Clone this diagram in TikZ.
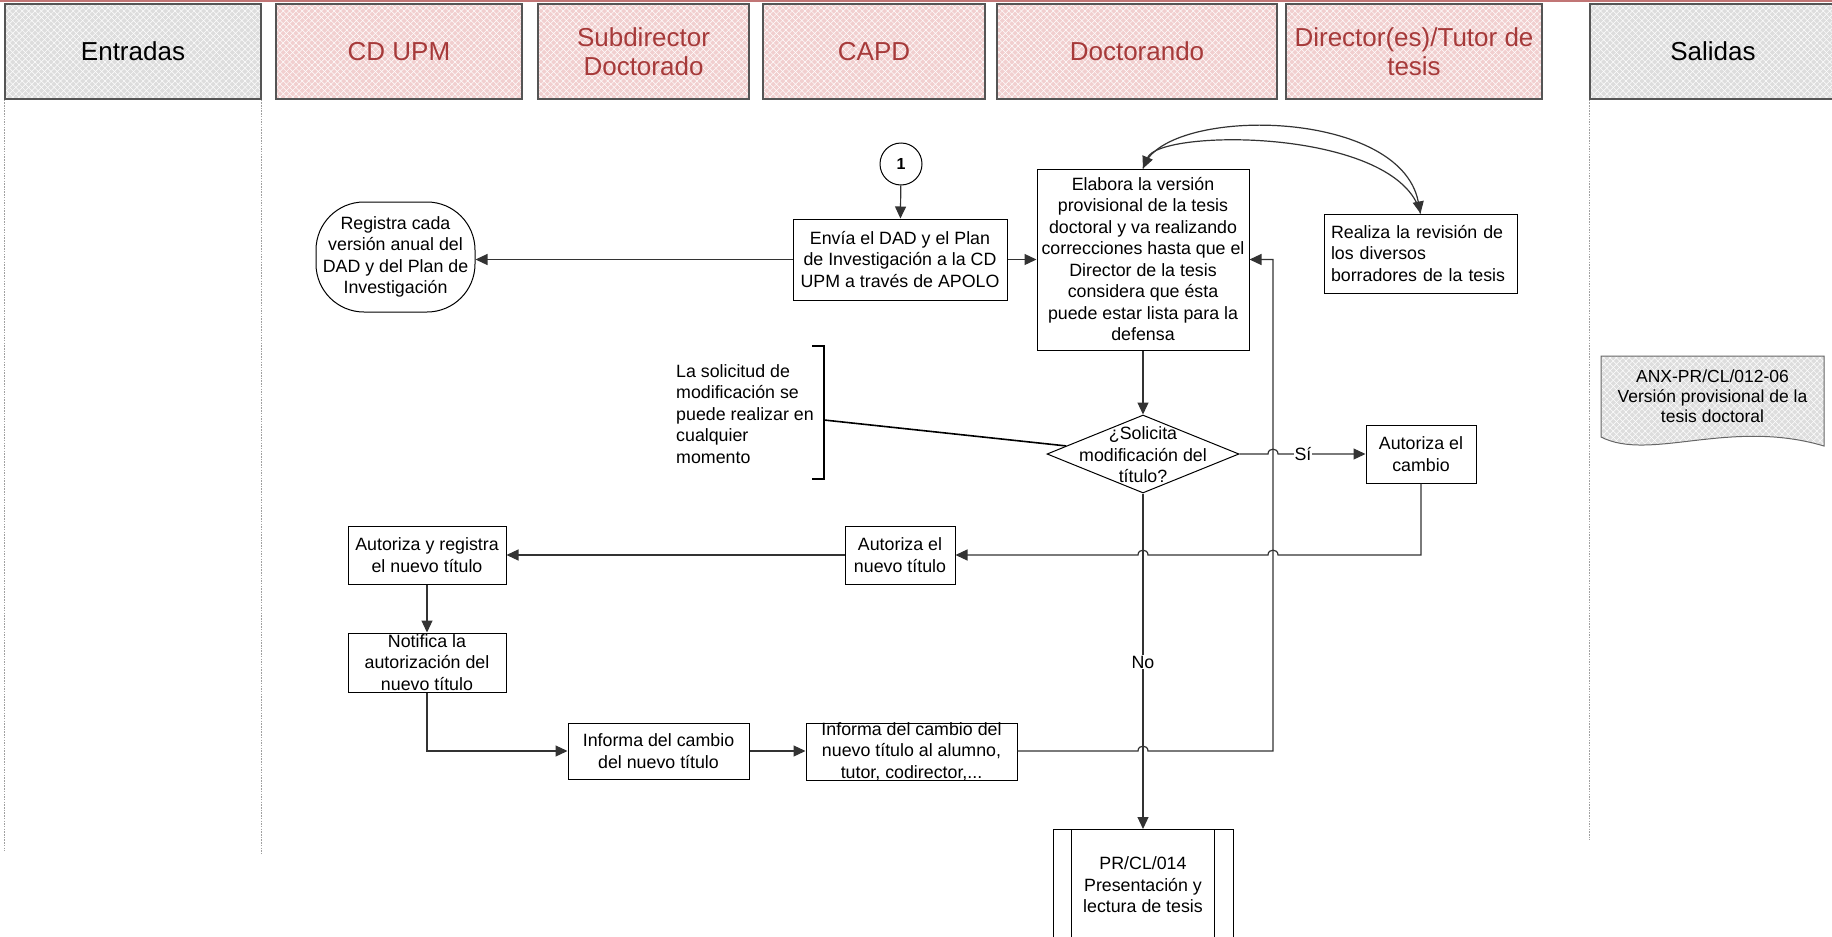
\documentclass[tikz,border=0pt]{standalone}
\usepackage{fontspec}
\setmainfont{Liberation Sans}
\usetikzlibrary{arrows.meta,shapes.geometric,patterns.meta}
\definecolor{pinkbase}{HTML}{F1CFCF}
\definecolor{graybase}{HTML}{DDDDDD}
\definecolor{hdrtext}{HTML}{A63A3A}
\definecolor{linegray}{HTML}{333333}
\definecolor{lanegray}{HTML}{A0A0A0}
\definecolor{hdrborder}{HTML}{555555}
\newcommand\myBody{\fontsize{17.8}{21.5}\selectfont}
\newcommand\myHdr{\fontsize{26}{28.5}\selectfont}
\newcommand\myDoc{\fontsize{17.5}{20}\selectfont}
\begin{document}
\begin{tikzpicture}[x=1pt,y=-1pt,
  box/.style={draw=black, line width=1pt, fill=white, inner sep=0pt},
  txt/.style={font=\myBody, align=center, inner sep=0pt},
  conn/.style={draw=linegray, line width=1.2pt},
  arr/.style={conn, -{Triangle[length=12pt,width=11pt]}},
  hatch/.style={preaction={fill=#1},
    preaction={pattern={Lines[angle=45,distance=4.5pt,line width=0.5pt]}, pattern color=white},
    preaction={pattern={Lines[angle=-45,distance=4.5pt,line width=0.5pt]}, pattern color=white}},
  hdr/.style={hatch=#1, draw=hdrborder, line width=1.2pt, font=\myHdr,
    align=center, inner sep=0pt, minimum height=95pt},
  lane/.style={draw=lanegray, line width=1.3pt, dash pattern=on 1.5pt off 1.2pt},
  lbl/.style={font=\myBody, fill=white, inner sep=1pt}
]
\useasboundingbox (0,0) rectangle (1832,937);
\clip (0,0) rectangle (1832,937);
\fill[white] (0,0) rectangle (1832,937);

% top strip
\draw[draw=hdrtext!70!white, line width=2pt] (0,1) -- (1832,1);

% headers
\node[hdr=graybase, text=black, minimum width=256pt] (hEnt) at (133,51.5) {Entradas};
\node[hdr=pinkbase, text=hdrtext, minimum width=246pt] (hCD) at (399,51.5) {CD UPM};
\node[hdr=pinkbase, text=hdrtext, minimum width=211pt] (hSub) at (643.5,51.5) {Subdirector\\Doctorado};
\node[hdr=pinkbase, text=hdrtext, minimum width=222pt] (hCAPD) at (874,51.5) {CAPD};
\node[hdr=pinkbase, text=hdrtext, minimum width=280pt] (hDoc) at (1137,51.5) {Doctorando};
\node[hdr=pinkbase, text=hdrtext, minimum width=256pt] (hDir) at (1414,51.5) {Director(es)/Tutor de\\tesis};
\node[hdr=graybase, text=black, minimum width=246pt] (hSal) at (1713,51.5) {Salidas};

% lane lines
\draw[lane] (hEnt.south west) -- ++(0,751);
\draw[lane] (hEnt.south east) -- ++(0,754);
\draw[lane] (hSal.south west) -- ++(0,740);

% nodes
\node[box, circle, minimum size=42pt, font=\bfseries\fontsize{16}{16}\selectfont] (c1) at (901,164) {1};
\node[box, txt, minimum width=214pt, minimum height=81pt] (envia) at (900,259.5)
  {Envía el DAD y el Plan\\de Investigación a la CD\\UPM a través de APOLO};
\node[box, txt, rounded corners=48pt, minimum width=159pt, minimum height=110pt] (reg) at (395.5,257)
  {Registra cada\\versión anual del\\DAD y del Plan de\\Investigación};
\node[box, minimum width=212pt, minimum height=181pt] (elab) at (1143,259.5) {};
\node[txt] (elabT) at (1143,259) {Elabora la versión\\provisional de la tesis\\doctoral y va realizando\\correcciones hasta que el\\Director de la tesis\\considera que ésta\\puede estar lista para la\\defensa};
\node[box, txt, align=left, text width=179pt, minimum width=193pt, minimum height=79pt] (rev) at (1420.5,253.5)
  {Realiza la revisión de\\los diversos\\borradores de la tesis};

\node[draw=black, line width=1pt, fill=white, diamond, minimum width=192pt, minimum height=78pt, inner sep=0pt] (dec) at (1143,454) {};
\node[txt] (decT) at (1143,455) {¿Solicita\\modificación del\\título?};

\node[box, txt, minimum width=110pt, minimum height=58pt] (cambio) at (1421,454) {Autoriza el\\cambio};
\node[box, txt, minimum width=110pt, minimum height=58pt] (nuevo) at (900,555) {Autoriza el\\nuevo título};
\node[box, txt, minimum width=158pt, minimum height=58pt] (reg2) at (427,555) {Autoriza y registra\\el nuevo título};
\node[box, minimum width=158pt, minimum height=59pt] (notif) at (427,662.5) {};
\node[txt] (notifT) at (notif) {Notifica la\\autorización del\\nuevo título};
\node[box, txt, minimum width=181pt, minimum height=56pt] (inf1) at (658.5,751) {Informa del cambio\\del nuevo título};
\node[box, minimum width=211pt, minimum height=57pt] (inf2) at (911.5,751.5) {};
\node[txt] (inf2T) at (inf2) {Informa del cambio del\\nuevo título al alumno,\\tutor, codirector,...};

\node[box, minimum width=180pt, minimum height=140pt, anchor=north] (pr) at (1143,829) {};
\draw[line width=1pt] ([xshift=19pt]pr.north west) -- ([xshift=19pt]pr.south west);
\draw[line width=1pt] ([xshift=-19pt]pr.north east) -- ([xshift=-19pt]pr.south east);
\node[txt] (prT) at (1143,885) {PR/CL/014\\Presentación y\\lectura de tesis};

% annotation
\node[txt, align=left, anchor=west] (note) at (676,414) {La solicitud de\\modificación se\\puede realizar en\\cualquier\\momento};
\draw[line width=1.6pt] (812,346) -- (824,346) -- (824,479) -- (812,479);
\coordinate (brk) at (824,420);
\draw[line width=1.6pt] (brk) -- (dec.174);

% output document
\path[hatch=graybase, draw=gray!80!black, line width=1pt]
  (1601,356) -- (1824,356) -- (1824,446) .. controls (1730,418) and (1650,462) .. (1601,437) -- cycle;
\node[font=\myDoc, align=center, inner sep=0pt] (docT) at (1712.5,396) {ANX-PR/CL/012-06\\Versión provisional de la\\tesis doctoral};

% connectors
\draw[arr] (c1) -- (envia);
\draw[arr] (envia.west) -- (reg.east |- envia.west);
\draw[arr] (envia.east) -- (elab.west |- envia.east);
\draw[arr] (elab.north) .. controls (1160,106) and (1400,106) .. (rev.north);
\draw[arr] (rev.north) .. controls (1400,128) and (1160,128) .. (elab.north);
\draw[arr] (elab.south) -- (dec.north);
\draw[arr] (dec.east) -- (1268,454) .. controls (1268,447.5) and (1278,447.5) .. (1278,454) -- (cambio.west);
\node[lbl] (si) at (1303,454) {Sí};
\draw[arr] (cambio.south) -- (1421,555) -- (1278,555) .. controls (1278,548.5) and (1268,548.5) .. (1268,555)
  -- (1148,555) .. controls (1148,548.5) and (1138,548.5) .. (1138,555) -- (nuevo.east);
\draw[arr] (nuevo.west) -- (reg2.east);
\draw[arr] (reg2.south) -- (notif.north);
\draw[arr] (notif.south) |- (inf1.west);
\draw[arr] (inf1.east) -- (inf1.east -| inf2.west);
\draw[arr] (inf2.east |- inf1.east) -- (1138,751) .. controls (1138,744.5) and (1148,744.5) .. (1148,751)
  -- (1273,751) |- (elab.east);
\draw[arr] (dec.south) -- (pr.north);
\node[lbl] (no) at (1143,662) {No};
\end{tikzpicture}
\end{document}
